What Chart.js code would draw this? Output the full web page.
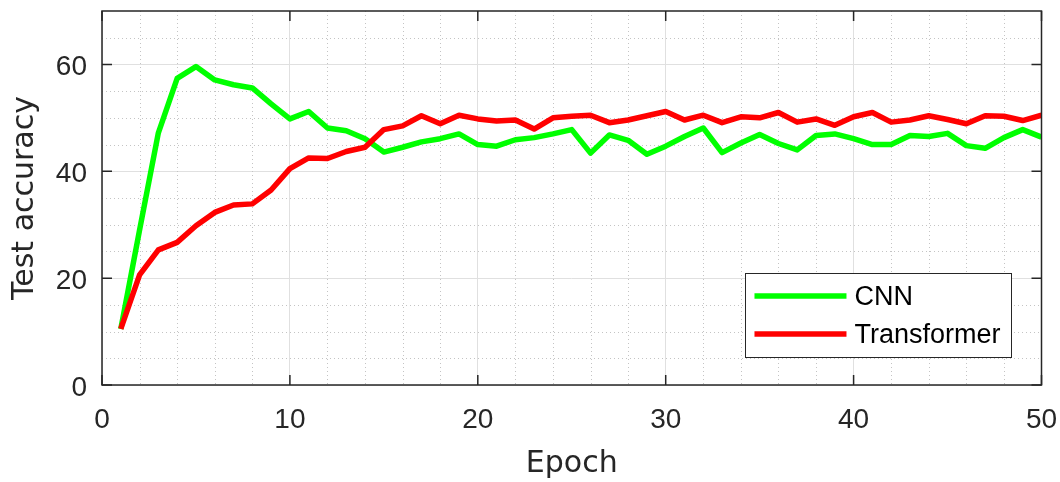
<!DOCTYPE html>
<html>
<head>
<meta charset="utf-8">
<script src="https://cdn.jsdelivr.net/npm/chart.js@4.4.1/dist/chart.umd.min.js"></script>
<style>
  body { margin: 0; background: #fff; }
</style>
</head>
<body>
<canvas id="accChart" width="1060" height="482"></canvas>
<script>
// epochs and test accuracy
const epochs = [1, 2, 3, 4, 5, 6, 7, 8, 9, 10,
  11, 12, 13, 14, 15, 16, 17, 18, 19, 20,
  21, 22, 23, 24, 25, 26, 27, 28, 29, 30,
  31, 32, 33, 34, 35, 36, 37, 38, 39, 40,
  41, 42, 43, 44, 45, 46, 47, 48, 49, 50];
const cnnAcc = [10.5, 29.0, 47.2, 57.4, 59.6, 57.1, 56.2, 55.6, 52.6, 49.8,
  51.2, 48.1, 47.6, 46.1, 43.6, 44.5, 45.5, 46.1, 47.0, 45.0,
  44.7, 45.9, 46.3, 47.0, 47.8, 43.4, 46.8, 45.8, 43.2, 44.7,
  46.5, 48.1, 43.5, 45.3, 46.9, 45.2, 44.0, 46.7, 47.0, 46.1,
  45.0, 45.0, 46.7, 46.5, 47.1, 44.8, 44.3, 46.3, 47.8, 46.4];
const transformerAcc = [10.5, 20.6, 25.3, 26.7, 29.8, 32.3, 33.7, 33.9, 36.5, 40.5,
  42.5, 42.4, 43.7, 44.5, 47.8, 48.5, 50.4, 48.9, 50.5, 49.8,
  49.4, 49.6, 47.9, 50.0, 50.3, 50.5, 49.1, 49.6, 50.4, 51.2,
  49.6, 50.5, 49.1, 50.2, 50.0, 51.0, 49.2, 49.8, 48.6, 50.2,
  51.0, 49.2, 49.6, 50.4, 49.7, 48.9, 50.4, 50.3, 49.5, 50.5];
const seriesNames = ['CNN', 'Transformer'];
const xTicks = [0, 10, 20, 30, 40, 50];
const yTicks = [0, 20, 40, 60];

const axisColor = '#262626';
const fontFamily = '"Liberation Sans", Arial, Helvetica, sans-serif';
const titleFamily = '"DejaVu Sans", "Liberation Sans", Arial, sans-serif';

// dotted minor grid, boxed axes with inward ticks, legend in lower right
const matlabLook = {
  id: 'matlabLook',
  beforeDatasetsDraw(chart) {
    const { ctx, chartArea: a, scales: { x, y } } = chart;
    ctx.save();
    ctx.strokeStyle = '#c4c4c4';
    ctx.lineWidth = 1;
    ctx.setLineDash([1, 3]);
    for (let v = x.min + 2; v < x.max; v += 2) {
      if (v % 10 === 0) continue;
      const px = Math.round(x.getPixelForValue(v)) + 0.5;
      ctx.beginPath(); ctx.moveTo(px, a.top); ctx.lineTo(px, a.bottom); ctx.stroke();
    }
    for (let v = y.min + 5; v < y.max; v += 5) {
      if (v % 20 === 0) continue;
      const py = Math.round(y.getPixelForValue(v)) + 0.5;
      ctx.beginPath(); ctx.moveTo(a.left, py); ctx.lineTo(a.right, py); ctx.stroke();
    }
    ctx.restore();
  },
  afterDraw(chart) {
    const { ctx, chartArea: a, scales: { x, y } } = chart;
    ctx.save();
    ctx.strokeStyle = axisColor;
    ctx.lineWidth = 1.5;
    ctx.strokeRect(a.left, a.top, a.right - a.left, a.bottom - a.top);
    const tl = 10;
    ctx.beginPath();
    xTicks.forEach(v => {
      const px = x.getPixelForValue(v);
      ctx.moveTo(px, a.bottom); ctx.lineTo(px, a.bottom - tl);
      ctx.moveTo(px, a.top); ctx.lineTo(px, a.top + tl);
    });
    yTicks.forEach(v => {
      const py = y.getPixelForValue(v);
      ctx.moveTo(a.left, py); ctx.lineTo(a.left + tl, py);
      ctx.moveTo(a.right, py); ctx.lineTo(a.right - tl, py);
    });
    ctx.stroke();

    // legend
    const items = chart.data.datasets.map(ds => ({ label: ds.label, color: ds.borderColor, w: ds.borderWidth }));
    ctx.font = '27px ' + fontFamily;
    const textW = Math.max(...items.map(it => ctx.measureText(it.label).width));
    const padL = 9, lineLen = 92, gap = 8, padR = 11, rowH = 38, padV = 23;
    const w = padL + lineLen + gap + textW + padR;
    const h = padV * 2 + rowH * (items.length - 1);
    const bx = a.right - 30 - w;
    const by = a.bottom - 28 - h;
    ctx.fillStyle = '#fff';
    ctx.fillRect(bx, by, w, h);
    ctx.lineWidth = 1;
    ctx.strokeStyle = axisColor;
    ctx.strokeRect(Math.round(bx) + 0.5, Math.round(by) + 0.5, Math.round(w), Math.round(h));
    items.forEach((it, i) => {
      const cy = by + padV + i * rowH;
      ctx.strokeStyle = it.color;
      ctx.lineWidth = it.w;
      ctx.beginPath();
      ctx.moveTo(bx + padL, cy); ctx.lineTo(bx + padL + lineLen, cy);
      ctx.stroke();
      ctx.fillStyle = '#000';
      ctx.textBaseline = 'middle';
      ctx.textAlign = 'left';
      ctx.fillText(it.label, bx + padL + lineLen + gap, cy + 2);
    });
    ctx.restore();
  }
};

const ctx = document.getElementById('accChart').getContext('2d');

new Chart(ctx, {
  type: 'line',
  data: {
    datasets: [{
      label: seriesNames[0],
      data: epochs.map((e, i) => ({ x: e, y: cnnAcc[i] })),
      borderColor: '#00ff00',
      borderWidth: 5.5,
      pointRadius: 0,
      tension: 0,
      borderJoinStyle: 'round',
      fill: false,
      order: 2
    }, {
      label: seriesNames[1],
      data: epochs.map((e, i) => ({ x: e, y: transformerAcc[i] })),
      borderColor: '#ff0000',
      borderWidth: 5.5,
      pointRadius: 0,
      tension: 0,
      borderJoinStyle: 'round',
      fill: false,
      order: 1
    }]
  },
  options: {
    responsive: false,
    animation: false,
    devicePixelRatio: 1,
    layout: { padding: { top: 11, right: 18.5, left: 0, bottom: 0 } },
    plugins: {
      legend: { display: false },
      tooltip: { enabled: false }
    },
    scales: {
      x: {
        type: 'linear',
        min: 0,
        max: 50,
        afterBuildTicks: s => { s.ticks = xTicks.map(v => ({ value: v })); },
        afterFit: s => { s.height = 97; s.paddingLeft = 0; s.paddingRight = 0; },
        grid: { color: '#e0e0e0', lineWidth: 1, drawTicks: false },
        border: { display: false },
        ticks: {
          color: axisColor,
          font: { family: fontFamily, size: 28 },
          padding: 18,
          maxRotation: 0
        },
        title: {
          display: true,
          text: 'Epoch',
          color: axisColor,
          font: { family: titleFamily, size: 30 },
          padding: { top: 0, bottom: 0 }
        }
      },
      y: {
        type: 'linear',
        min: 0,
        max: 70,
        afterBuildTicks: s => { s.ticks = yTicks.map(v => ({ value: v })); },
        afterFit: s => { s.width = 102; s.paddingTop = 0; s.paddingBottom = 0; },
        grid: { color: '#e0e0e0', lineWidth: 1, drawTicks: false },
        border: { display: false },
        ticks: {
          color: axisColor,
          font: { family: fontFamily, size: 28 },
          padding: 15,
          labelOffset: 3
        },
        title: {
          display: true,
          text: 'Test accuracy',
          color: axisColor,
          font: { family: titleFamily, size: 30 },
          padding: { top: 7, bottom: 0 }
        }
      }
    }
  },
  plugins: [matlabLook]
});
</script>
</body>
</html>
